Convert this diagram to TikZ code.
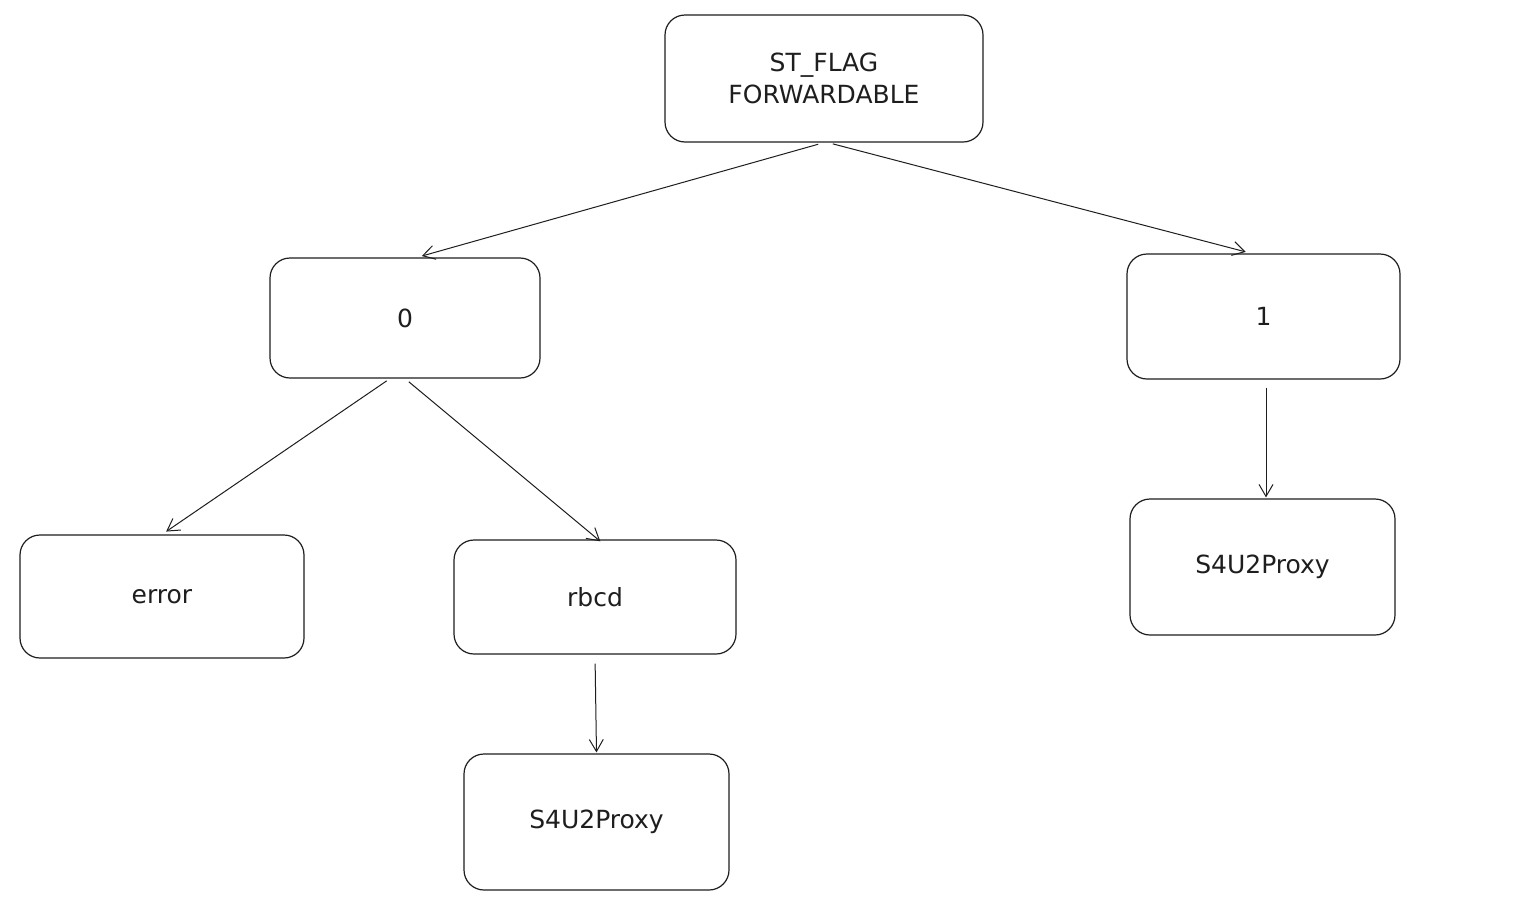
\documentclass[tikz,border=0pt]{standalone}
\usepackage{fontspec}
\setmainfont{DejaVu Sans}
\usetikzlibrary{arrows.meta}
\definecolor{ink}{HTML}{1E1E1E}
\begin{document}
\begin{tikzpicture}[x=1pt,y=-1pt,
  box/.style={draw=ink,line width=1.2pt,rounded corners=20pt,inner sep=0pt,
    font=\fontsize{25}{32}\selectfont,text=ink,align=center},
  conn/.style={draw=ink,line width=1pt,-{Straight Barb[length=12pt,width=14pt,line width=1pt]}}]
\useasboundingbox[fill=white] (0,0) rectangle (1537,900);
\node[box,minimum width=318pt,minimum height=127pt] (top) at (824,78.5) {ST\_FLAG\\FORWARDABLE};
\node[box,minimum width=270pt,minimum height=120pt] (zero) at (405,318) {0};
\node[box,minimum width=273pt,minimum height=125pt] (one) at (1263.5,316.5) {1};
\node[box,minimum width=284pt,minimum height=123pt] (err) at (162,596.5) {error};
\node[box,minimum width=282pt,minimum height=114pt] (rbcd) at (595,597) {rbcd};
\node[box,minimum width=265pt,minimum height=136pt] (pa) at (596.5,822) {S4U2Proxy};
\node[box,minimum width=265pt,minimum height=136pt] (pb) at (1262.5,567) {S4U2Proxy};
\draw[conn,shorten <=6pt,shorten >=5pt] (top.south) -- ([xshift=12pt]zero.north);
\draw[conn,shorten <=5pt,shorten >=6pt] ([xshift=4pt]top.south) -- ([xshift=-12pt]one.north);
\draw[conn,shorten <=4pt,shorten >=5pt] ([xshift=-15pt]zero.south) -- (err.north);
\draw[conn,shorten <=5pt,shorten >=-3pt] (zero.south) -- ([xshift=3pt]rbcd.north);
\draw[conn,shorten <=9pt,shorten >=1pt] (rbcd.south) -- (pa.north);
\draw[conn,shorten <=8pt,shorten >=1pt] ([xshift=2.5pt]one.south) -- ([xshift=3.5pt]pb.north);
\end{tikzpicture}
\end{document}
